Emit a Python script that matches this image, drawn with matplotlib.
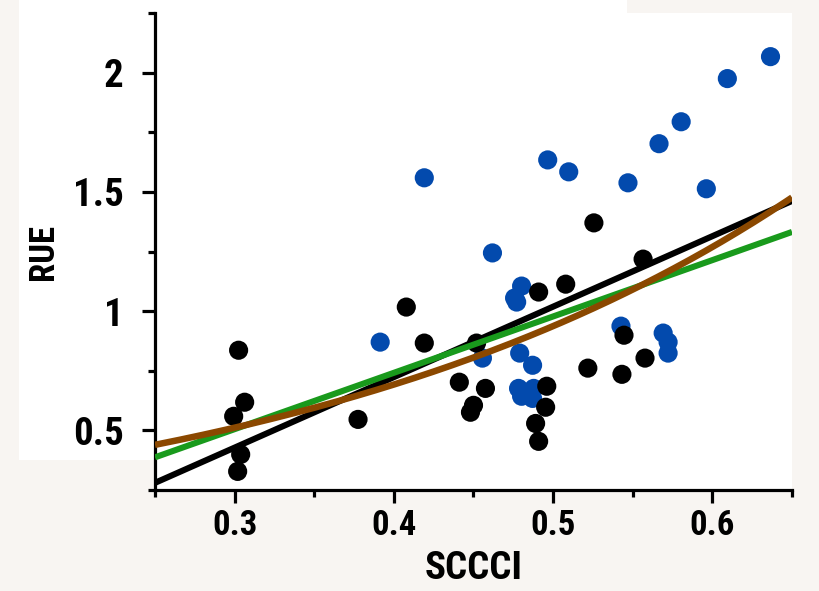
import matplotlib
matplotlib.use("Agg")
import matplotlib.pyplot as plt
import numpy as np
from matplotlib import font_manager as fm
from matplotlib.patches import Rectangle
from matplotlib.ticker import FixedLocator, FuncFormatter

# ---------------- data ----------------
black_x = [0.3025, 0.3063, 0.2994, 0.3038, 0.3019, 0.3775, 0.4078, 0.4191, 0.4411,
           0.4519, 0.4575, 0.4500, 0.4481, 0.4909, 0.5079, 0.4960, 0.4953, 0.4890,
           0.4909, 0.5256, 0.5565, 0.5218, 0.5445, 0.5432, 0.5577]
black_y = [0.836, 0.618, 0.559, 0.399, 0.328, 0.546, 1.017, 0.866, 0.702,
           0.866, 0.676, 0.605, 0.576, 1.080, 1.113, 0.685, 0.597, 0.529,
           0.454, 1.370, 1.218, 0.761, 0.899, 0.735, 0.803]

blue_x = [0.6365, 0.6094, 0.5804, 0.5665, 0.4966, 0.5098, 0.5470, 0.5962, 0.4191,
          0.4619, 0.4802, 0.4758, 0.4771, 0.3914, 0.4556, 0.4790, 0.4871, 0.4783,
          0.4802, 0.4871, 0.4878, 0.5426, 0.5691, 0.5722, 0.5722]
blue_y = [2.067, 1.975, 1.794, 1.702, 1.634, 1.584, 1.538, 1.513, 1.559,
          1.244, 1.105, 1.055, 1.038, 0.870, 0.803, 0.824, 0.773, 0.676,
          0.643, 0.634, 0.676, 0.937, 0.908, 0.870, 0.824]

fit_x = [0.25, 0.65]
black_fit_y = [0.280, 1.462]
green_fit_y = [0.387, 1.332]
exp_a, exp_b = 0.206, 3.03   # brown curve: y = a * exp(b * x)

x_major = [0.3, 0.4, 0.5, 0.6]
x_minor = [0.25, 0.35, 0.45, 0.55, 0.65]
y_major = [0.5, 1.0, 1.5, 2.0]
y_minor = [0.25, 0.75, 1.25, 1.75, 2.25]

# ---------------- font ----------------
fonts = fm.fontManager.ttflist
names = {f.name for f in fonts}
font_kw = dict(family="DejaVu Sans", weight="bold")
if "Liberation Sans Narrow" in names:
    font_kw = dict(family="Liberation Sans Narrow", weight="bold")
elif "Roboto Condensed" in names:
    font_kw = dict(family="Roboto Condensed", weight="bold")
elif "Roboto" in names:
    font_kw = dict(family="Roboto", weight="bold")

# ---------------- figure ----------------
BG = "#f8f5f2"
W, H = 820, 591
fig = plt.figure(figsize=(W / 100, H / 100), dpi=100, facecolor=BG)

def px_rect(x0, y0, x1, y1):
    return Rectangle((x0 / W, 1 - y1 / H), (x1 - x0) / W, (y1 - y0) / H,
                     transform=fig.transFigure, facecolor="white",
                     edgecolor="none", zorder=-5)

fig.add_artist(px_rect(19, 0, 627, 13))
fig.add_artist(px_rect(19, 13, 792, 460))

ax = fig.add_axes([155 / W, 1 - 490 / H, (792 - 155) / W, (490 - 13) / H])
ax.set_facecolor("white")

ax.scatter(blue_x, blue_y, s=190, color="#034aad", edgecolors="none", zorder=3)
ax.scatter(black_x, black_y, s=190, color="black", edgecolors="none", zorder=4)

ax.plot(fit_x, black_fit_y, color="black", lw=4.4, zorder=5, solid_capstyle="butt")
ax.plot(fit_x, green_fit_y, color="#199a1c", lw=4.4, zorder=6, solid_capstyle="butt")
xc = np.linspace(fit_x[0], fit_x[1], 200)
ax.plot(xc, exp_a * np.exp(exp_b * xc), color="#8b4800", lw=4.7, zorder=7,
        solid_capstyle="butt")

ax.set_xlim(0.25, 0.65)
ax.set_ylim(0.25, 2.25)

for s in ["top", "right"]:
    ax.spines[s].set_visible(False)
for s in ["left", "bottom"]:
    ax.spines[s].set_linewidth(2.3)

ax.xaxis.set_major_locator(FixedLocator(x_major))
ax.xaxis.set_minor_locator(FixedLocator(x_minor))
ax.yaxis.set_major_locator(FixedLocator(y_major))
ax.yaxis.set_minor_locator(FixedLocator(y_minor))
fmt = FuncFormatter(lambda v, p: f"{v:g}")
ax.xaxis.set_major_formatter(fmt)
ax.yaxis.set_major_formatter(fmt)

ax.tick_params(axis="both", which="major", length=9.5, width=2.3, color="black")
ax.tick_params(axis="both", which="minor", length=5, width=2.3, color="black")
ax.tick_params(axis="y", which="major", pad=13)
ax.tick_params(axis="x", which="major", pad=4)

for lab in ax.get_yticklabels():
    lab.set_fontsize(28)
    lab.set(**font_kw)
for lab in ax.get_xticklabels():
    lab.set_fontsize(25)
    lab.set(**font_kw)

ax.set_xlabel("SCCCI", fontsize=28, labelpad=6, **font_kw)
ax.set_ylabel("RUE", fontsize=25, labelpad=9, **font_kw)

fig.savefig("out.png", dpi=100, facecolor=BG)
